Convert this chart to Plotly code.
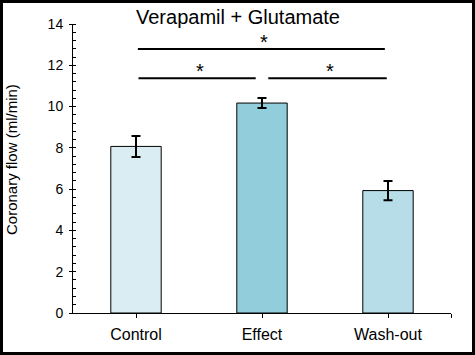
import plotly.graph_objects as go

# ---- data ----
categories = ["Control", "Effect", "Wash-out"]
flow_mean = [8.07, 10.17, 5.93]
flow_sem = [0.51, 0.24, 0.47]
bar_colors = ["#DAEDF2", "#92CDDC", "#B6DDE8"]
title_text = "Verapamil + Glutamate"
y_title = "Coronary flow (ml/min)"
y_ticks = [0, 2, 4, 6, 8, 10, 12, 14]
# significance comparisons: (from index, to index, label)
comparisons = [(0, 1, "*"), (1, 2, "*"), (0, 2, "*")]

# ---- layout geometry ----
W, H = 475, 355
ML, MR, MT, MB = 73, 24, 24, 42
PW, PH = W - ML - MR, H - MT - MB


def px_to_paper(px, py):
    return (px - ML) / PW, (H - MB - py) / PH


FONT = "Arial, Liberation Sans, sans-serif"
x_pos = list(range(len(categories)))

fig = go.Figure()
fig.add_trace(go.Bar(
    x=x_pos, y=flow_mean, width=0.4,
    marker=dict(color=bar_colors, line=dict(color="black", width=1)),
    error_y=dict(type="data", array=flow_sem, color="black", thickness=2, width=4.5),
    showlegend=False, hoverinfo="skip",
))

shapes = []
annotations = []
levels = {1: 11.37, 2: 12.79}
for a, b, lab in comparisons:
    span = b - a
    y = levels[span]
    if span == 1:
        x0 = a + (0.02 if a == 0 else 0.05)
        x1 = b - (0.05 if a == 0 else 0.01)
    else:
        x0, x1 = a + 0.015, b - 0.025
    shapes.append(dict(type="line", xref="x", yref="y", x0=x0, x1=x1, y0=y, y1=y,
                       line=dict(color="black", width=2)))
    annotations.append(dict(xref="x", yref="y", x=(x0 + x1) / 2 + 0.02, y=y,
                            text=lab, showarrow=False, yanchor="bottom",
                            font=dict(family=FONT, size=20, color="black"), yshift=-6))

# outer black frame
bx0, by1 = px_to_paper(1.5, 1.5)
bx1, by0 = px_to_paper(W - 1.5, H - 1.5)
shapes.append(dict(type="rect", xref="paper", yref="paper", x0=bx0, x1=bx1, y0=by0, y1=by1,
                   line=dict(color="black", width=3), layer="above"))

tx, ty = px_to_paper(238, 17)
annotations.append(dict(xref="paper", yref="paper", x=tx, y=ty, text=title_text,
                        showarrow=False, xanchor="center", yanchor="middle",
                        font=dict(family=FONT, size=20, color="black")))
yx, yy = px_to_paper(11, 160)
annotations.append(dict(xref="paper", yref="paper", x=yx, y=yy, text=y_title,
                        showarrow=False, textangle=-90, xanchor="center", yanchor="middle",
                        font=dict(family=FONT, size=15, color="black")))

fig.update_layout(
    width=W, height=H,
    margin=dict(l=ML, r=MR, t=MT, b=MB, pad=0),
    paper_bgcolor="white", plot_bgcolor="white",
    font=dict(family=FONT, color="black"),
    shapes=shapes, annotations=annotations,
    xaxis=dict(range=[-0.5, 2.5], tickmode="array",
               tickvals=x_pos + [2.5], ticktext=categories + [""],
               showline=True, linecolor="black", linewidth=1,
               ticks="outside", ticklen=4, tickcolor="black", tickwidth=1,
               ticklabelstandoff=3,
               showgrid=False, zeroline=False,
               tickfont=dict(family=FONT, size=16, color="black")),
    yaxis=dict(range=[0, 14], tickmode="array", tickvals=y_ticks,
               showline=True, linecolor="black", linewidth=1,
               ticks="outside", ticklen=3, tickcolor="black", tickwidth=1,
               ticklabelstandoff=3,
               minor=dict(dtick=0.4, ticks="inside", ticklen=3, tickcolor="black", tickwidth=1),
               showgrid=False, zeroline=False,
               tickfont=dict(family=FONT, size=14, color="black")),
)

fig.write_html("out.html",
               config={"displayModeBar": False},
               post_script="document.body.style.margin='0';document.body.style.overflow='hidden';")
